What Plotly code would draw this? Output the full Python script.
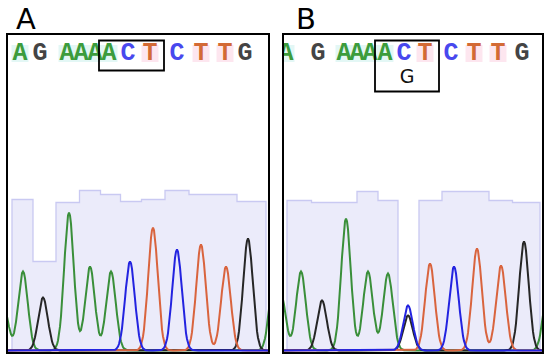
import numpy as np
import plotly.graph_objects as go

# ---------------- data ----------------
# called sequence shown above each trace
seq_letters = ["A", "G", "A", "A", "A", "A", "C", "T", "C", "T", "T", "G"]
letter_pos_a = [12, 32, 59, 73, 87, 101, 120, 142, 169, 193, 217, 237]
letter_pos_b = [2, 34, 60, 73, 86, 101, 120, 141, 167, 190, 214, 238]

# chromatogram peaks (scan position, base, signal height)
peak_pos_a = [-4.7, 15, 35, 61, 82, 103, 122, 145, 169, 193, 218, 240, 266]
peak_base_a = ["A", "A", "G", "A", "A", "A", "C", "T", "C", "T", "T", "G", "A"]
peak_height_a = [46, 79, 53, 138, 84, 79, 89, 123, 101, 106, 84, 112, 70]

peak_pos_b = [-3.3, 17, 38, 62, 84, 104, 124, 124, 146, 170, 193, 217, 240, 264]
peak_base_b = ["A", "A", "G", "A", "A", "A", "G", "C", "T", "C", "T", "T", "G", "A"]
peak_height_b = [58, 79, 50, 132, 79, 77, 35, 45, 87, 84, 102, 85, 109, 60]

# per-base quality values
qual_pos_a = [15, 35, 61, 82, 103, 122, 145, 169, 193, 218, 240]
qual_a = [151, 89, 148, 160, 156, 149, 151, 160, 156, 156, 149]
qual_pos_b = [17, 38, 62, 84, 104, 124, 146, 170, 193, 217, 240]
qual_b = [150, 148, 148, 159, 150, 0, 150, 159, 159, 150, 148]

mutation_index = 5          # boxed codon starts at this letter (A C T)
alt_base_b = "G"            # heterozygous call shown in panel B

# ---------------- styles ----------------
trace_col = {"A": "#3a8f3a", "G": "#262626", "C": "#2323e0", "T": "#d9643e"}
letter_col = {"A": "#3c9c3c", "G": "#444444", "C": "#4848ee", "T": "#d36a35"}
letter_bg = {"A": "#e3f7f5", "G": "rgba(0,0,0,0)", "C": "rgba(0,0,0,0)", "T": "#fde6ef"}
SIG = 4.8

fig = go.Figure()


def add_panel(xa, ya, letter_pos, peak_pos, peak_base, peak_height,
              qual_pos, qual, xmax, q_start, q_end, box_bottom, alt=None):
    # quality step bars
    qp = np.array(qual_pos, float)
    mids = (qp[:-1] + qp[1:]) / 2
    lefts = np.concatenate([[q_start], mids])
    xs = [q_start] + list(lefts) + [q_end, q_end]
    ys = [0] + list(qual) + [qual[-1], 0]
    fig.add_trace(go.Scatter(x=xs, y=ys, mode="lines", line_shape="hv",
                             fill="tozeroy", fillcolor="#ebebfa",
                             line=dict(color="#c9c9f2", width=1.3),
                             xaxis=xa, yaxis=ya, hoverinfo="skip"))
    # pink highlight columns behind T peaks
    tx = [p for p, b in zip(peak_pos, peak_base) if b == "T"]
    th = [h for h, b in zip(peak_height, peak_base) if b == "T"]
    fig.add_trace(go.Bar(x=tx, y=th, width=15, marker_color="#fbe3ed",
                         marker_line_width=0, xaxis=xa, yaxis=ya,
                         hoverinfo="skip"))
    # traces
    grid = np.arange(-12, xmax + 12, 1.0)
    for base in ["A", "G", "T", "C"]:
        sig = np.zeros_like(grid)
        for p, b, h in zip(peak_pos, peak_base, peak_height):
            if b == base:
                sig += h * np.exp(-((grid - p) ** 2) / (2 * SIG ** 2))
        fig.add_trace(go.Scatter(x=grid, y=sig, mode="lines",
                                 line=dict(color=trace_col[base], width=2),
                                 xaxis=xa, yaxis=ya, hoverinfo="skip"))
    # letter background highlights
    fig.add_trace(go.Scatter(x=letter_pos, y=[297] * len(letter_pos), mode="markers",
                             marker=dict(symbol="square", size=17,
                                         color=[letter_bg[c] for c in seq_letters]),
                             xaxis=xa, yaxis=ya, hoverinfo="skip"))
    # letters
    fig.add_trace(go.Scatter(x=letter_pos, y=[297] * len(letter_pos), mode="text",
                             text=seq_letters,
                             textfont=dict(family="Liberation Mono", size=25,
                                           color=[letter_col[c] for c in seq_letters],
                                           weight="bold"),
                             xaxis=xa, yaxis=ya, hoverinfo="skip", cliponaxis=True))
    # codon box
    x0 = letter_pos[mutation_index] - 10
    x1 = letter_pos[mutation_index + 2] + 14
    xref = "x" if xa == "x" else "x2"
    yref = "y" if ya == "y" else "y2"
    fig.add_shape(type="rect", xref=xref, yref=yref, x0=x0, x1=x1,
                  y0=box_bottom, y1=310, line=dict(color="black", width=1.8))
    if alt:
        fig.add_trace(go.Scatter(x=[letter_pos[mutation_index + 1] + 3], y=[272],
                                 mode="text", text=[alt],
                                 textfont=dict(family="DejaVu Sans", size=19, color="#111111"),
                                 xaxis=xa, yaxis=ya, hoverinfo="skip"))


add_panel("x", "y", letter_pos_a, peak_pos_a, peak_base_a, peak_height_a,
          qual_pos_a, qual_a, 260, 4, 258, 280)
add_panel("x2", "y2", letter_pos_b, peak_pos_b, peak_base_b, peak_height_b,
          qual_pos_b, qual_b, 258, 3, 256, 259, alt=alt_base_b)

W, H = 550, 362
ax_common = dict(showgrid=False, zeroline=False, showticklabels=False, ticks="",
                 showline=True, mirror=True, linecolor="black", linewidth=2)
ydom = [10 / H, 327 / H]
fig.update_layout(
    width=W, height=H, margin=dict(l=0, r=0, t=0, b=0),
    paper_bgcolor="white", plot_bgcolor="white", showlegend=False,
    barmode="overlay",
    xaxis=dict(domain=[8 / W, 268 / W], range=[0, 260], **ax_common),
    yaxis=dict(domain=ydom, range=[-1.5, 315.5], **ax_common),
    xaxis2=dict(domain=[284 / W, 542 / W], range=[0, 258], anchor="y2", **ax_common),
    yaxis2=dict(domain=ydom, range=[-1.5, 315.5], anchor="x2", **ax_common),
    annotations=[
        dict(text="A", xref="paper", yref="paper", x=26 / W, y=1 - 19 / H,
             xanchor="center", yanchor="middle",
             showarrow=False, font=dict(family="DejaVu Sans", size=29, color="black")),
        dict(text="B", xref="paper", yref="paper", x=306 / W, y=1 - 19 / H,
             xanchor="center", yanchor="middle",
             showarrow=False, font=dict(family="DejaVu Sans", size=29, color="black")),
    ],
)

fig.write_html("out.html", config={"displayModeBar": False, "staticPlot": True},
               post_script="document.body.style.margin='0';document.body.style.overflow='hidden';")
